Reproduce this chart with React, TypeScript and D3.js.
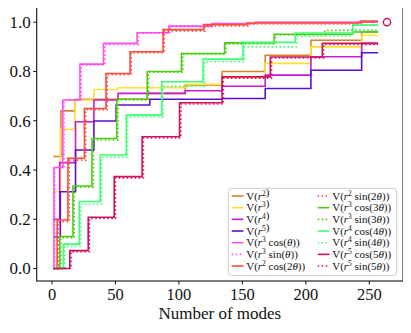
import * as d3 from 'd3';

const W = 411;
const H = 333;
const PLOT = { left: 36.7, right: 403, top: 7.3, bottom: 281 };

const X_TICKS = [0, 50, 100, 150, 200, 250];
const Y_TICKS = [0, 0.2, 0.4, 0.6, 0.8, 1.0];

// step points: [number of modes, value]
const V_R2 = [[1, 0.455], [7, 0.64], [18, 0.687], [75, 0.711], [105, 0.745], [134, 0.8], [168, 0.866], [204, 0.927], [244, 0.96], [257, 0.96]];
const V_R3 = [[1, 0.312], [6.5, 0.565], [18, 0.684], [33, 0.727], [52, 0.734], [106, 0.748], [134, 0.776], [168, 0.833], [204, 0.9], [244, 0.947], [257, 0.947]];
const V_R4 = [[1, 0.2], [6, 0.43], [18.5, 0.596], [33, 0.684], [52, 0.711], [105, 0.722], [134, 0.74], [168, 0.785], [204, 0.86], [244, 0.914], [257, 0.914]];
const V_R5 = [[1, 0.128], [6.5, 0.312], [18.5, 0.481], [33, 0.599], [50.5, 0.664], [77, 0.687], [134, 0.69], [168, 0.731], [204, 0.805], [244, 0.876], [257, 0.876]];
const V_R3_COS1 = [[1, 0], [1.5, 0.41], [8.5, 0.684], [22, 0.83], [40.5, 0.914], [67, 0.957], [92, 0.984], [126, 0.995], [160, 1.0], [257, 1.0]];
const V_R3_SIN1 = [[1, 0], [2, 0.41], [9.5, 0.684], [23, 0.826], [41.5, 0.91], [68, 0.955], [93, 0.982], [127, 0.993], [161, 1.0], [257, 1.0]];
const V_R2_COS2 = [[1, 0], [4, 0.197], [12.5, 0.448], [25.5, 0.65], [42.5, 0.792], [61.5, 0.88], [87.5, 0.97], [119.5, 0.99], [153.5, 0.997], [243, 1.005], [257, 1.005]];
const V_R2_SIN2 = [[1, 0], [5, 0.19], [13.5, 0.44], [26.5, 0.645], [43.5, 0.787], [62.5, 0.876], [88.5, 0.965], [120.5, 0.985], [154.5, 0.993], [244, 1.0], [257, 1.0]];
const V_R3_COS3 = [[1, 0], [6, 0.13], [16.5, 0.335], [31.5, 0.528], [51, 0.687], [75, 0.8], [102, 0.873], [136, 0.916], [175, 0.951], [237, 0.96], [257, 0.96]];
const V_R3_SIN3 = [[1, 0], [7, 0.125], [17.5, 0.33], [32.5, 0.522], [52, 0.684], [76, 0.797], [103, 0.87], [137, 0.912], [176, 0.948], [215, 0.967], [257, 0.967]];
const V_R4_COS4 = [[1, 0], [9, 0.099], [21.5, 0.272], [38, 0.461], [58.5, 0.623], [86.5, 0.758], [119, 0.85], [150.5, 0.918], [191.5, 0.956], [237, 0.988], [257, 0.988]];
const V_R4_SIN4 = [[1, 0], [10, 0.09], [22.5, 0.262], [39, 0.452], [59.5, 0.615], [87.5, 0.74], [120, 0.84], [151.5, 0.9], [192.5, 0.943], [236, 0.967], [257, 0.967]];
const V_R5_COS5 = [[1, 0], [14, 0.073], [28.5, 0.208], [49, 0.373], [71, 0.535], [100.5, 0.673], [134, 0.778], [172, 0.859], [213, 0.914], [257, 0.914]];
const V_R5_SIN5 = [[1, 0], [15, 0.068], [29.5, 0.203], [50, 0.368], [72, 0.53], [101.5, 0.668], [135, 0.773], [173, 0.855], [214, 0.91], [257, 0.91]];

const END_MARK = [264, 1.0];

const SERIES = [
  { data: V_R2, color: '#d4852a', dotted: false, pow: '2', trig: '' },
  { data: V_R3, color: '#ffe135', dotted: false, pow: '3', trig: '' },
  { data: V_R4, color: '#c81ad2', dotted: false, pow: '4', trig: '' },
  { data: V_R5, color: '#5b10d0', dotted: false, pow: '5', trig: '' },
  { data: V_R3_COS1, color: '#ff4ff0', dotted: false, pow: '3', trig: 'cos', k: '' },
  { data: V_R3_SIN1, color: '#ff4ff0', dotted: true, pow: '3', trig: 'sin', k: '' },
  { data: V_R2_COS2, color: '#ff4a3a', dotted: false, pow: '2', trig: 'cos', k: '2' },
  { data: V_R2_SIN2, color: '#ff4a3a', dotted: true, pow: '2', trig: 'sin', k: '2' },
  { data: V_R3_COS3, color: '#4ccc10', dotted: false, pow: '3', trig: 'cos', k: '3' },
  { data: V_R3_SIN3, color: '#4ccc10', dotted: true, pow: '3', trig: 'sin', k: '3' },
  { data: V_R4_COS4, color: '#3dff74', dotted: false, pow: '4', trig: 'cos', k: '4' },
  { data: V_R4_SIN4, color: '#3dff74', dotted: true, pow: '4', trig: 'sin', k: '4' },
  { data: V_R5_COS5, color: '#d21060', dotted: false, pow: '5', trig: 'cos', k: '5' },
  { data: V_R5_SIN5, color: '#d21060', dotted: true, pow: '5', trig: 'sin', k: '5' },
];

const FONT = '"Liberation Serif", "DejaVu Serif", serif';
const DOTS = '1.5 2.5';

function Label({ s, x, y }) {
  return (
    <text x={x} y={y} fontSize={11} fontFamily={FONT} fill="#111">
      <tspan>V(</tspan>
      <tspan fontStyle="italic">r</tspan>
      <tspan dy={-4} fontSize={7.5}>{s.pow}</tspan>
      <tspan dy={4}>{s.trig ? ` ${s.trig}(` : ''}</tspan>
      {s.trig && <tspan>{s.k}</tspan>}
      {s.trig && <tspan fontStyle="italic">θ</tspan>}
      <tspan>{s.trig ? '))' : ')'}</tspan>
    </text>
  );
}

export default function App() {
  const x = d3.scaleLinear().domain([-12.1, 276.6]).range([PLOT.left, PLOT.right]);
  const y = d3.scaleLinear().domain([-0.0505, 1.0605]).range([PLOT.bottom, PLOT.top]);
  const line = d3
    .line()
    .x((d) => x(d[0]))
    .y((d) => y(d[1]))
    .curve(d3.curveStepAfter);

  return (
    <svg width={W} height={H} style={{ display: 'block', margin: '-8px' }}>
      <rect width={W} height={H} fill="#fff" />

      {/* lines */}
      {SERIES.map((s, i) => (
        <path
          key={i}
          d={line(s.data)}
          fill="none"
          stroke={s.color}
          strokeWidth={1.6}
          strokeDasharray={s.dotted ? DOTS : undefined}
        />
      ))}
      <circle cx={x(END_MARK[0])} cy={y(END_MARK[1])} r={3.6} fill="none" stroke="#d21060" strokeWidth={1.5} />

      {/* axes */}
      <rect
        x={PLOT.left}
        y={PLOT.top}
        width={PLOT.right - PLOT.left}
        height={PLOT.bottom - PLOT.top}
        fill="none"
        stroke="#111"
        strokeWidth={1.1}
      />
      {X_TICKS.map((t) => (
        <g key={t} transform={`translate(${x(t)},${PLOT.bottom})`}>
          <line y2={3.5} stroke="#111" strokeWidth={1} />
          <text y={18.5} textAnchor="middle" fontSize={16.5} fontFamily={FONT} fill="#111">
            {t}
          </text>
        </g>
      ))}
      {Y_TICKS.map((t) => (
        <g key={t} transform={`translate(${PLOT.left},${y(t)})`}>
          <line x2={-3.5} stroke="#111" strokeWidth={1} />
          <text x={-6} dy="0.34em" textAnchor="end" fontSize={17} fontFamily={FONT} fill="#111">
            {t.toFixed(1)}
          </text>
        </g>
      ))}
      <text x={(PLOT.left + PLOT.right) / 2} y={318.5} textAnchor="middle" fontSize={17} fontFamily={FONT} fill="#111">
        Number of modes
      </text>

      {/* legend */}
      <rect x={228.3} y={188.3} width={168.4} height={87} rx={3} fill="#fff" fillOpacity={0.8} stroke="#ccc" strokeWidth={1} />
      {SERIES.map((s, i) => {
        const col = i < 7 ? 0 : 1;
        const row = i % 7;
        const lx = col === 0 ? 231.7 : 317.7;
        const ly = 196 + row * 11.67;
        return (
          <g key={i}>
            <line
              x1={lx}
              x2={lx + 11.7}
              y1={ly}
              y2={ly}
              stroke={s.color}
              strokeWidth={1.6}
              strokeDasharray={s.dotted ? DOTS : undefined}
            />
            <Label s={s} x={lx + 14.5} y={ly + 3.8} />
          </g>
        );
      })}
    </svg>
  );
}
